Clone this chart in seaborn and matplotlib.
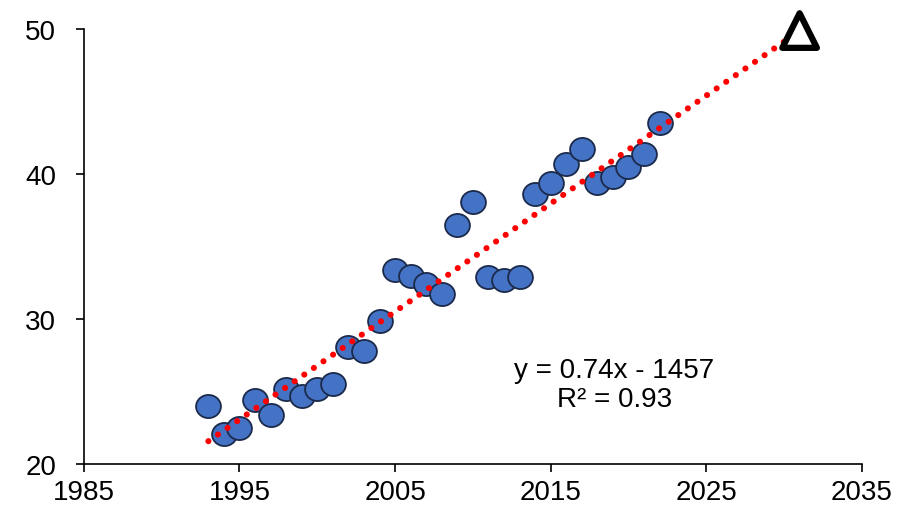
import matplotlib
matplotlib.use("Agg")
import matplotlib.pyplot as plt
from matplotlib.path import Path
import seaborn as sns
import numpy as np
import pandas as pd

years = [1993, 1994, 1995, 1996, 1997, 1998, 1999, 2000, 2001, 2002,
         2003, 2004, 2005, 2006, 2007, 2008, 2009, 2010, 2011, 2012,
         2013, 2014, 2015, 2016, 2017, 2018, 2019, 2020, 2021, 2022]
values = [24.0, 22.1, 22.5, 24.4, 23.4, 25.2, 24.7, 25.2, 25.5, 28.1,
          27.8, 29.9, 33.4, 33.0, 32.4, 31.7, 36.5, 38.1, 32.9, 32.7,
          32.9, 38.6, 39.4, 40.7, 41.7, 39.4, 39.8, 40.5, 41.4, 43.5]

# Projected target
target_year = [2031]
target_value = [49.9]
trend_end = 2030.5

x_ticks = [1985, 1995, 2005, 2015, 2025, 2035]
y_ticks = [20, 30, 40, 50]
equation_text = "y = 0.74x - 1457\nR² = 0.93"

df = pd.DataFrame({"year": years, "value": values})

sns.set_style("ticks")
plt.rcParams['font.family'] = ['Liberation Sans', 'DejaVu Sans']
plt.rcParams['text.color'] = 'black'

fig = plt.figure(figsize=(9.12, 5.1), dpi=100)
ax = fig.add_axes([0.092, 0.088, 0.853, 0.853])

# slightly wide ellipse marker, like the original
circ = Path.unit_circle()
ellipse = Path(circ.vertices * np.array([1.0, 0.93]), circ.codes)

# Linear trend fitted to the data, extended forward
slope, intercept = np.polyfit(df["year"], df["value"], 1)
trend_x = np.array([df["year"].min(), trend_end])
ax.plot(trend_x, slope * trend_x + intercept, color="#FF0000",
        linestyle=(0, (0.01, 1.9)), linewidth=4.4,
        dash_capstyle="round", zorder=3)

sns.scatterplot(data=df, x="year", y="value", ax=ax, s=320, marker=ellipse,
                color="#4472C4", edgecolor="#1B2A4A", linewidth=1.3,
                zorder=2, legend=False)

ax.scatter(target_year, target_value, marker="^", s=620,
           facecolor="none", edgecolor="black", linewidth=4.5, zorder=4,
           clip_on=False)

ax.text(2019.1, 25.5, equation_text, ha="center", va="center",
        fontsize=20, linespacing=1.15, color="black")

ax.set_xlim(1985, 2035)
ax.set_ylim(20, 50)
ax.set_xticks(x_ticks)
ax.set_yticks(y_ticks)
ax.tick_params(labelsize=20, length=6, width=1.2, colors="black")
ax.tick_params(axis="x", pad=5)
ax.tick_params(axis="y", pad=14)
ax.set_xlabel("")
ax.set_ylabel("")
for side in ["left", "bottom"]:
    ax.spines[side].set_linewidth(1.2)
    ax.spines[side].set_color("black")
sns.despine(ax=ax)

fig.savefig("out.png", dpi=100)
